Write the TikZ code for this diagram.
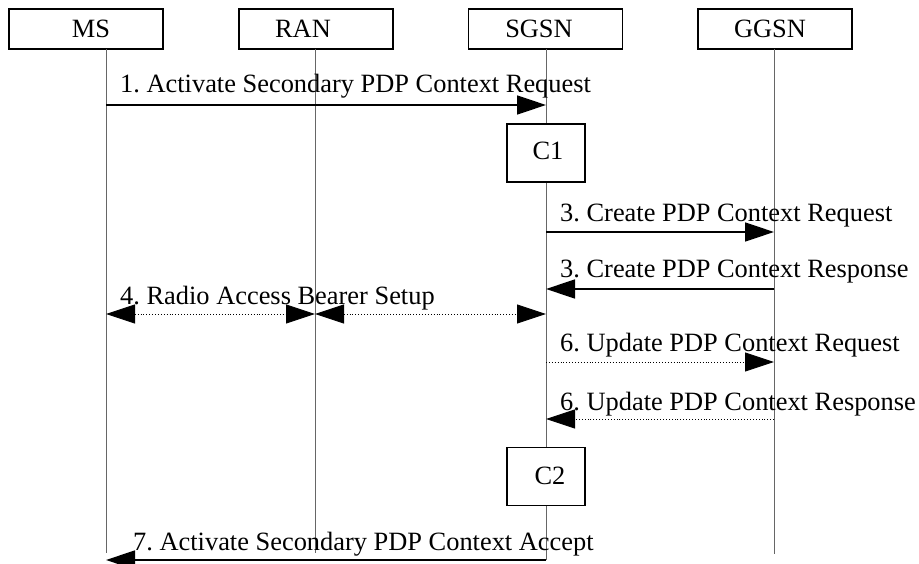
\documentclass[tikz,border=0pt]{standalone}
\usepackage{fontspec}
\setmainfont{Liberation Serif}
\usetikzlibrary{arrows.meta}
\frenchspacing
\begin{document}
\begin{tikzpicture}[x=1pt,y=-1pt,
  ent/.style={draw=black, line width=1.4pt, fill=white, minimum width=154pt, minimum height=40pt, inner sep=0pt},
  cbox/.style={draw=black, line width=1.4pt, fill=white, minimum width=78pt, minimum height=58pt, inner sep=0pt},
  txt/.style={font=\fontsize{26.4}{27}\selectfont, inner sep=0pt},
  lbl/.style={txt, anchor=base west},
  life/.style={draw=black!60, line width=0.9pt},
  msg/.style={line width=1.4pt, -{Triangle[length=29pt,width=19pt]}},
  dmsg/.style={line width=0.9pt, dotted, -{Triangle[length=29pt,width=19pt]}},
  dmsgb/.style={line width=0.9pt, dotted, {Triangle[length=29pt,width=19pt]}-{Triangle[length=29pt,width=19pt]}}]
\useasboundingbox (0,0) rectangle (919,564);
% entity boxes
\node[ent] (MSbox) at (86,29) {};
\node[ent] (RANbox) at (316,29) {};
\node[ent] (SGSNbox) at (545.5,29) {};
\node[ent] (GGSNbox) at (775,29) {};
\node[txt, anchor=base] (MSt) at (91,38) {MS};
\node[txt, anchor=base] (RANt) at (303,38) {RAN};
\node[txt, anchor=base] (SGSNt) at (539,38) {SGSN};
\node[txt, anchor=base] (GGSNt) at (770,38) {GGSN};
% lifeline ends
\coordinate (msT) at (106,49);   \coordinate (msB) at (106,553);
\coordinate (ranT) at (315,49);  \coordinate (ranB) at (315,553);
\coordinate (sgT) at (546,49);   \coordinate (sgB) at (546,560);
\coordinate (ggT) at (774,49);   \coordinate (ggB) at (774,554);
\draw[life] (msT) -- (msB);
\draw[life] (ranT) -- (ranB);
\draw[life] (sgT) -- (sgB);
\draw[life] (ggT) -- (ggB);
% C boxes
\node[cbox] (C1) at (546,153) {};
\node[txt, anchor=base] at (548,160) {C1};
\node[cbox] (C2) at (546,476.5) {};
\node[txt, anchor=base] at (550,484) {C2};
% message points
\coordinate (m1a) at (106,105); \coordinate (m1b) at (546,105);
\coordinate (m2a) at (546,232); \coordinate (m2b) at (774,232);
\coordinate (m3a) at (774,289); \coordinate (m3b) at (546,289);
\coordinate (m4a) at (106,314); \coordinate (m4b) at (315,314); \coordinate (m4c) at (546,314);
\coordinate (m5a) at (546,362); \coordinate (m5b) at (774,362);
\coordinate (m6a) at (774,419); \coordinate (m6b) at (546,419);
\coordinate (m7a) at (546,560); \coordinate (m7b) at (106,560);
% messages
\draw[msg] (m1a) -- (m1b);
\node[lbl] at (120,93) {1. Activate Secondary PDP Context Request};
\draw[msg] (m2a) -- (m2b);
\node[lbl] at (560,222) {3. Create PDP Context Request};
\draw[msg] (m3a) -- (m3b);
\node[lbl] at (560,278) {3. Create PDP Context Response};
\draw[dmsgb] (m4a) -- (m4b);
\draw[dmsgb] (m4b) -- (m4c);
\node[lbl] at (120,305) {4. Radio Access Bearer Setup};
\draw[dmsg] (m5a) -- (m5b);
\node[lbl] at (560,352) {6. Update PDP Context Request};
\draw[dmsg] (m6a) -- (m6b);
\node[lbl] at (560,410) {6. Update PDP Context Response};
\draw[msg] (m7a) -- (m7b);
\node[lbl] at (133,550) {7. Activate Secondary PDP Context Accept};
\end{tikzpicture}
\end{document}
